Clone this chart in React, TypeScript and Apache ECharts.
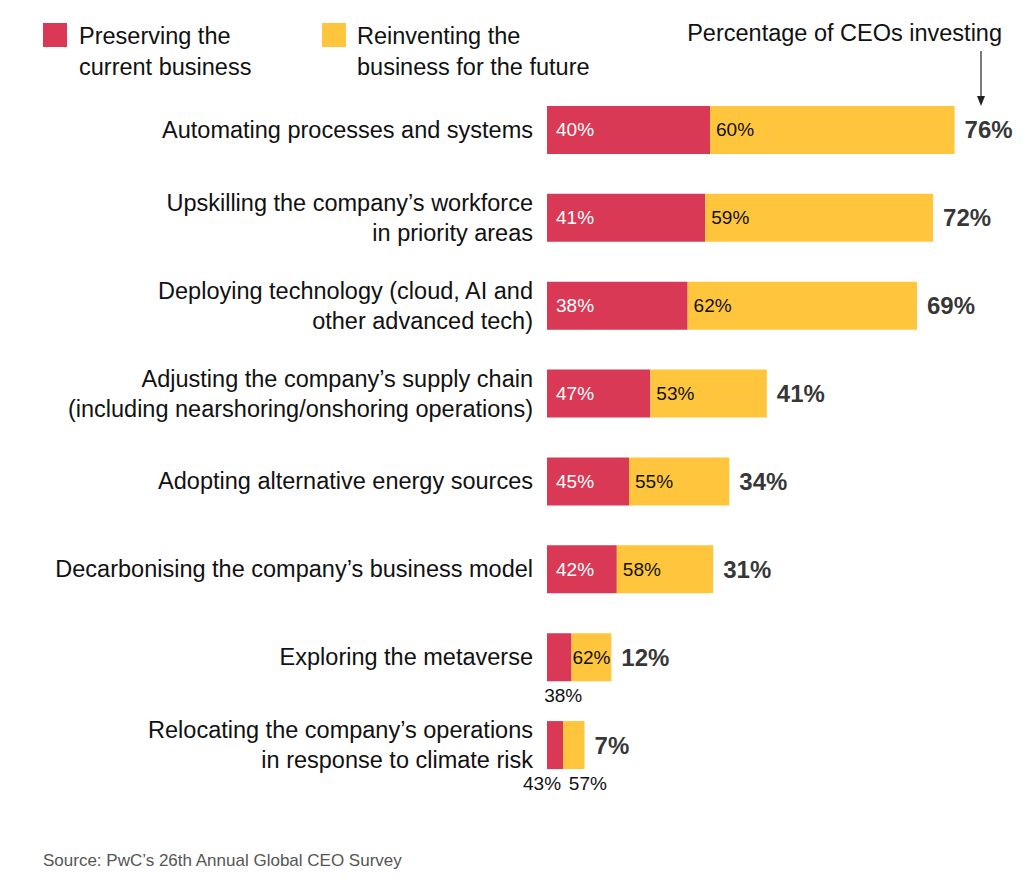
import React, { useEffect, useRef } from "react";
import * as echarts from "echarts";

const categories = [
  "Automating processes and systems",
  "Upskilling the company’s workforce\nin priority areas",
  "Deploying technology (cloud, AI and\nother advanced tech)",
  "Adjusting the company’s supply chain\n(including nearshoring/onshoring operations)",
  "Adopting alternative energy sources",
  "Decarbonising the company’s business model",
  "Exploring the metaverse",
  "Relocating the company’s operations\nin response to climate risk",
];
const totalInvesting = [76, 72, 69, 41, 34, 31, 12, 7];
const preserveShare = [40, 41, 38, 47, 45, 42, 38, 43];
const reinventShare = [60, 59, 62, 53, 55, 58, 62, 57];

const RED = "#D93954";
const YELLOW = "#FFC63D";
const FONT = "'Liberation Sans', Arial, sans-serif";

export default function App() {
  const ref = useRef<HTMLDivElement>(null);
  useEffect(() => {
    if (!ref.current) return;
    const chart = echarts.init(ref.current, undefined, { renderer: "svg" });

    const preserveData = totalInvesting.map((t, i) => {
      const item: any = { value: (t * preserveShare[i]) / 100 };
      if (i === 6) {
        item.label = { position: "bottom", distance: 5, color: "#111", offset: [4, 0] };
      } else if (i === 7) {
        item.label = { position: "bottom", distance: 5, color: "#111", offset: [-13, 0] };
      }
      return item;
    });
    const reinventData = totalInvesting.map((t, i) => {
      const item: any = { value: (t * reinventShare[i]) / 100 };
      if (i === 6) {
        item.label = { position: "insideLeft", distance: 1 };
      } else if (i === 7) {
        item.label = { position: "bottom", distance: 5, offset: [14, 0] };
      }
      return item;
    });

    chart.setOption({
      animation: false,
      textStyle: { fontFamily: FONT },
      grid: { left: 547, top: 86, width: 429, height: 703 },
      xAxis: {
        type: "value",
        min: 0,
        max: 80,
        show: false,
      },
      yAxis: {
        type: "category",
        inverse: true,
        data: categories,
        axisLine: { show: false },
        axisTick: { show: false },
        splitLine: { show: false },
        axisLabel: {
          margin: 14,
          fontSize: 23.5,
          lineHeight: 30,
          color: "#111",
          align: "right",
          fontFamily: FONT,
        },
      },
      series: [
        {
          name: "Preserving the current business",
          type: "bar",
          stack: "s",
          barWidth: 48,
          itemStyle: { color: RED },
          label: {
            show: true,
            position: "insideLeft",
            distance: 9,
            color: "#fff",
            fontSize: 19,
            fontFamily: FONT,
            formatter: (p: any) => preserveShare[p.dataIndex] + "%",
          },
          data: preserveData,
        },
        {
          name: "Reinventing the business for the future",
          type: "bar",
          stack: "s",
          barWidth: 48,
          itemStyle: { color: YELLOW },
          label: {
            show: true,
            position: "insideLeft",
            distance: 6,
            color: "#111",
            fontSize: 19,
            fontFamily: FONT,
            formatter: (p: any) => reinventShare[p.dataIndex] + "%",
          },
          data: reinventData,
        },
        {
          name: "Percentage of CEOs investing",
          type: "scatter",
          symbolSize: 0,
          label: {
            show: true,
            position: "right",
            distance: 10,
            color: "#000",
            fontSize: 24,
            fontWeight: "bold",
            fontFamily: FONT,
            formatter: (p: any) => totalInvesting[p.dataIndex] + "%",
          },
          data: totalInvesting.map((t, i) => [t, categories[i]]),
        },
      ],
      graphic: [
        { type: "rect", shape: { x: 43, y: 23, width: 24, height: 24 }, style: { fill: RED } },
        {
          type: "text",
          style: {
            x: 79, y: 20, text: "Preserving the\ncurrent business",
            font: `23.5px ${FONT}`, lineHeight: 31, fill: "#111",
          },
        },
        { type: "rect", shape: { x: 322, y: 23, width: 24, height: 24 }, style: { fill: YELLOW } },
        {
          type: "text",
          style: {
            x: 357, y: 20, text: "Reinventing the\nbusiness for the future",
            font: `23.5px ${FONT}`, lineHeight: 31, fill: "#111",
          },
        },
        {
          type: "text",
          style: {
            x: 1002, y: 21, text: "Percentage of CEOs investing",
            font: `23.5px ${FONT}`, fill: "#111", align: "right",
          },
        },
        { type: "line", shape: { x1: 981, y1: 51, x2: 981, y2: 100 }, style: { stroke: "#222", lineWidth: 1.2 } },
        { type: "polygon", shape: { points: [[977, 96], [985, 96], [981, 106]] }, style: { fill: "#222" } },
        {
          type: "text",
          style: {
            x: 43, y: 852, text: "Source: PwC’s 26th Annual Global CEO Survey",
            font: `17px ${FONT}`, fill: "#555",
          },
        },
      ],
    });
    return () => chart.dispose();
  }, []);
  return <div ref={ref} style={{ position: "absolute", left: 0, top: 0, width: 1036, height: 883 }} />;
}
